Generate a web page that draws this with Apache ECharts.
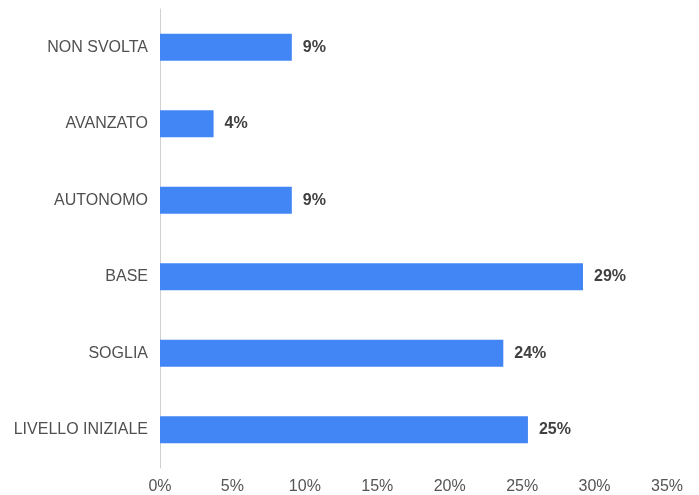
<!DOCTYPE html>
<html>
<head>
<meta charset="utf-8">
<script src="https://cdn.jsdelivr.net/npm/echarts@6/dist/echarts.min.js"></script>
<style>html,body{margin:0;padding:0;background:#fff}#c{width:699px;height:495px}</style>
</head>
<body>
<div id="c"></div>
<script>
var categories = ['NON SVOLTA', 'AVANZATO', 'AUTONOMO', 'BASE', 'SOGLIA', 'LIVELLO INIZIALE'];
var values = [9.1, 3.7, 9.1, 29.2, 23.7, 25.4];
var xTicks = [0, 5, 10, 15, 20, 25, 30, 35];

var chart = echarts.init(document.getElementById('c'));
chart.setOption({
  animation: false,
  grid: { left: 160, right: 32, top: 9, bottom: 27, containLabel: false },
  xAxis: {
    type: 'value', min: xTicks[0], max: xTicks[xTicks.length - 1], interval: 5,
    axisLine: { show: false }, axisTick: { show: false }, splitLine: { show: false },
    axisLabel: { formatter: '{value}%', color: '#555', fontSize: 16, fontFamily: 'Liberation Sans, Arial', margin: 11 }
  },
  yAxis: {
    type: 'category', data: categories, inverse: true,
    axisLine: { show: true, lineStyle: { color: '#d0d0d0', width: 1 } },
    axisTick: { show: false },
    axisLabel: { color: '#505050', fontSize: 16, fontFamily: 'Liberation Sans, Arial', margin: 12 }
  },
  series: [{
    type: 'bar', data: values, barWidth: 27,
    itemStyle: { color: '#4285F4' },
    label: {
      show: true, position: 'right', distance: 11,
      formatter: function (p) { return Math.round(p.value) + '%'; },
      color: '#404040', fontWeight: 'bold', fontSize: 16, fontFamily: 'Liberation Sans, Arial'
    }
  }]
});
</script>
</body>
</html>
